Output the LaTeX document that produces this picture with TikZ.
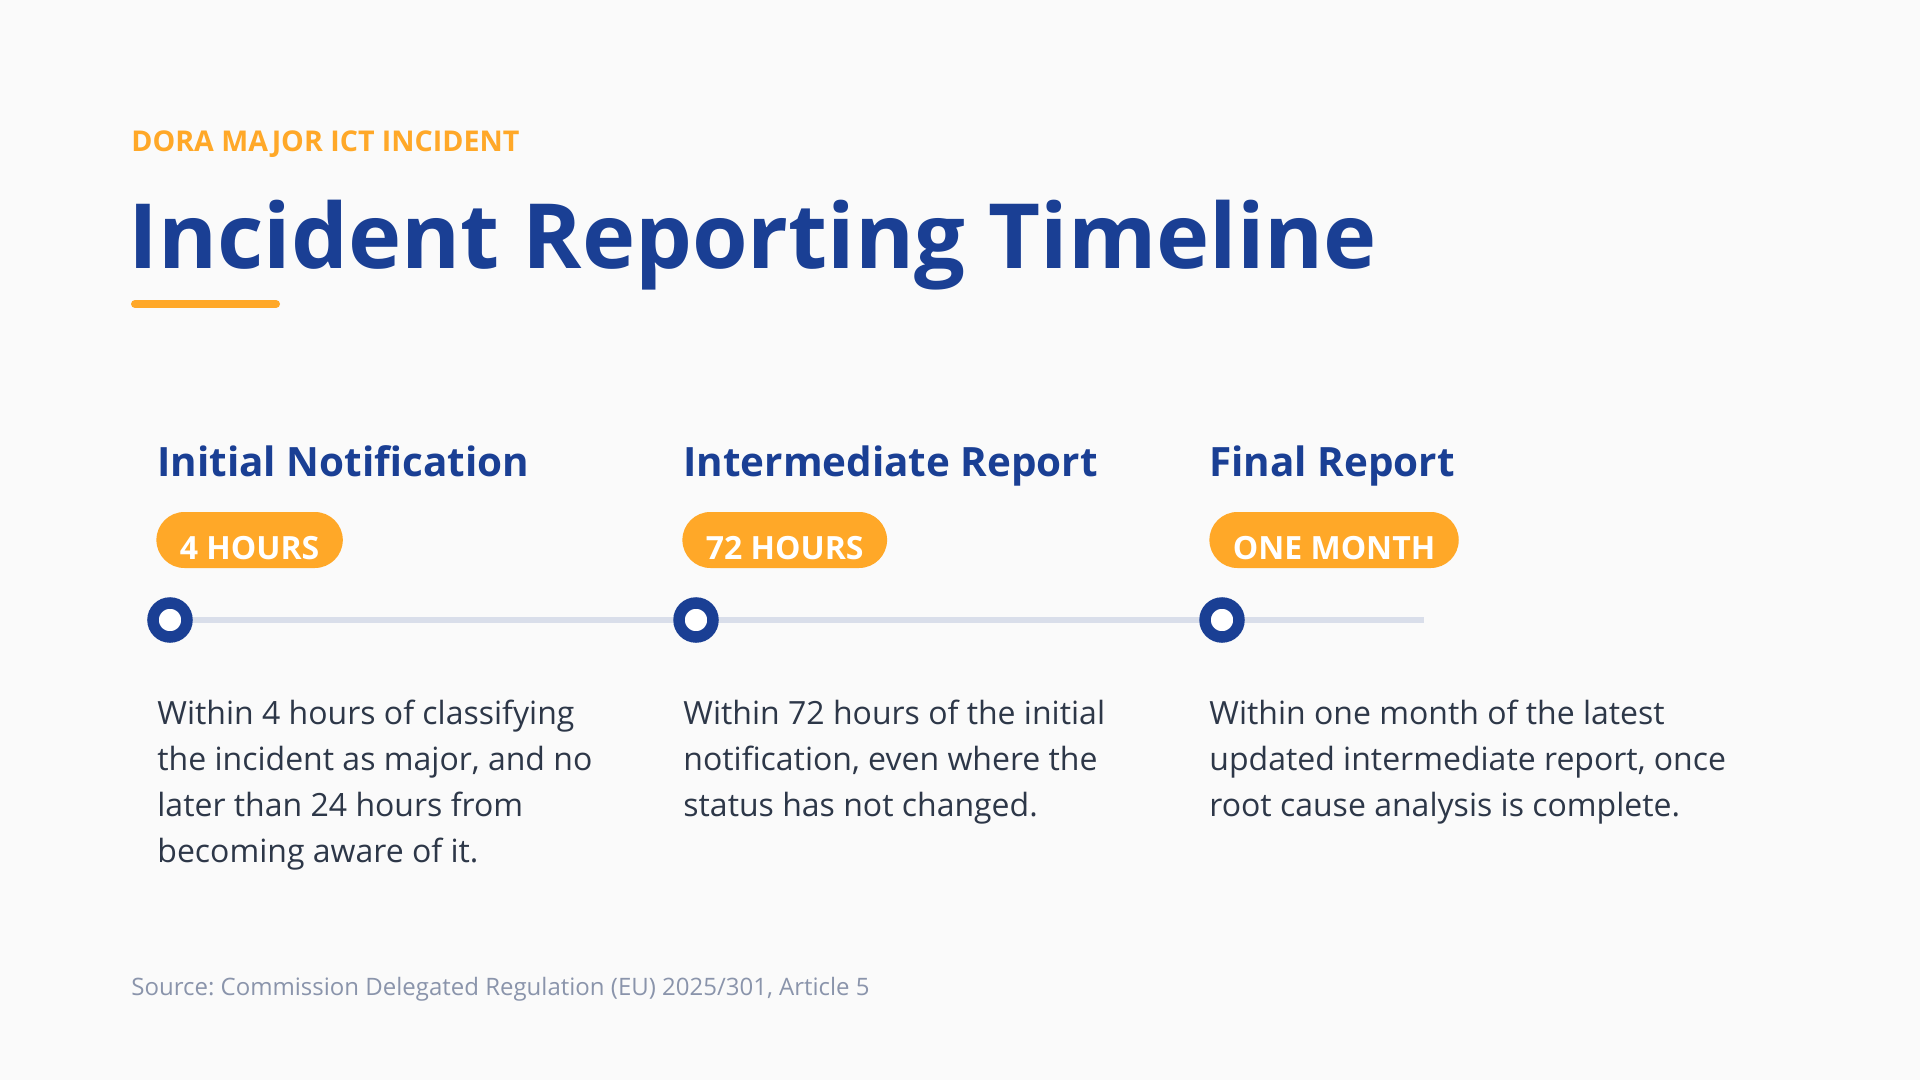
\documentclass[tikz,border=0pt]{standalone}
\usepackage{fontspec}
\setmainfont{Open Sans}
\frenchspacing
\usetikzlibrary{shapes.misc}

\definecolor{doraBlue}{HTML}{1A3F94}
\definecolor{doraOrange}{HTML}{FFA828}
\definecolor{bodyText}{HTML}{2D3748}
\definecolor{railGray}{HTML}{D9DEEA}
\definecolor{noteGray}{HTML}{8A94AB}
\definecolor{pageBg}{HTML}{FAFAFA}

\newcommand{\pilllabel}[1]{\raisebox{-3.75pt}[11.5pt][0pt]{#1}}

\tikzset{stagehead/.style={anchor=base west,inner sep=0,text=doraBlue,font=\fontsize{20.2pt}{24pt}\selectfont\bfseries}}
\tikzset{deadline/.style={rounded rectangle,anchor=west,fill=doraOrange,text=white,minimum height=28pt,inner xsep=10.5pt,inner ysep=0,font=\fontsize{16pt}{18pt}\selectfont\bfseries}}
\tikzset{milestone/.style={circle,draw=doraBlue,line width=5.75pt,fill=white,minimum size=17pt,inner sep=0}}
\tikzset{stagetext/.style={anchor=base west,inner sep=0,align=left,text=bodyText,font=\fontsize{16pt}{23pt}\selectfont}}
\tikzset{rail/.style={railGray,line width=3pt}}

\begin{document}
\begin{tikzpicture}[x=0.5pt,y=-0.5pt]
        \fill[pageBg] (0,0) rectangle (1920,1080);
        \useasboundingbox (0,0) rectangle (1920,1080);
        \node[anchor=base west,inner sep=0,text=doraOrange,font=\fontsize{14.3pt}{17pt}\selectfont\bfseries] (kicker) at (131,152) {DORA MAJOR ICT INCIDENT};
        \node[anchor=base west,inner sep=0,text=doraBlue,font=\fontsize{45pt}{54pt}\selectfont\bfseries] (title) at (128,269) {Incident Reporting Timeline};
        \draw[doraOrange,line width=4pt,line cap=round] (135,304) -- (276,304);
        \node[stagehead] (head1) at (157,476) {Initial Notification};
        \node[stagehead] (head2) at (683,476) {Intermediate Report};
        \node[stagehead] (head3) at (1209,476) {Final Report};
        \node[deadline] (pill1) at (156,540) {\pilllabel{4 HOURS}};
        \node[deadline] (pill2) at (682,540) {\pilllabel{72 HOURS}};
        \node[deadline] (pill3) at (1209,540) {\pilllabel{ONE MONTH}};
        \node[milestone] (dot1) at (170,620) {};
        \node[milestone] (dot2) at (696,620) {};
        \node[milestone] (dot3) at (1222,620) {};
        \coordinate (railend) at (1424,620);
        \draw[rail] (dot1) -- (dot2);
        \draw[rail] (dot2) -- (dot3);
        \draw[rail] (dot3) -- (railend);
        % base anchor sits on the last line
        \node[stagetext] (text1) at (157,862) {Within 4 hours of classifying\\the incident as major, and no\\later than 24 hours from\\becoming aware of it.};
        \node[stagetext] (text2) at (683,816) {Within 72 hours of the initial\\notification, even where the\\status has not changed.};
        \node[stagetext] (text3) at (1209,816) {Within one month of the latest\\updated intermediate report, once\\root cause analysis is complete.};
        \node[anchor=base west,inner sep=0,text=noteGray,font=\fontsize{12pt}{14pt}\selectfont] (source) at (131,995) {Source: Commission Delegated Regulation (EU) 2025/301, Article 5};
    \end{tikzpicture}
\end{document}
